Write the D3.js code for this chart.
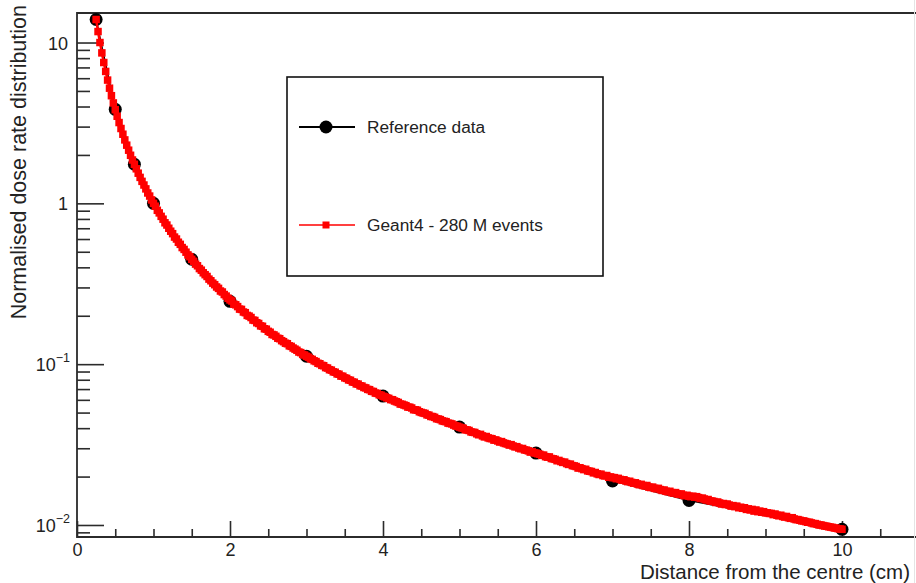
<!DOCTYPE html>
<html>
<head>
<meta charset="utf-8">
<script src="https://cdn.jsdelivr.net/npm/d3@7"></script>
<style>
  html, body { margin: 0; padding: 0; background: #fff; }
  svg { display: block; font-family: "Liberation Sans", Arial, Helvetica, sans-serif; }
</style>
</head>
<body>
<svg id="chart" width="916" height="583"></svg>
<script>
// Reference measurements (distance in cm, normalised dose rate)
const refDistance = [0.25, 0.5, 0.75, 1.0, 1.5, 2.0, 3.0, 4.0, 5.0, 6.0, 7.0, 8.0, 10.0];
const refDose = [13.9, 3.84, 1.75, 1.0, 0.449, 0.246, 0.112, 0.0633, 0.0406, 0.0280, 0.0188, 0.0142, 0.0094];

// Geant4 histogram: bin centres start at 0.25 cm, 0.025 cm wide
const geantBinStart = 0.25;
const geantBinWidth = 0.025;
const geantDose = [
  // 0.25 - 1.00
  13.9, 11.7, 10.0, 8.62, 7.51, 6.61, 5.84, 5.20, 4.67, 4.21,
  3.82, 3.48, 3.18, 2.92, 2.69, 2.48, 2.30, 2.14, 1.99, 1.86,
  1.75, 1.64, 1.54, 1.45, 1.37, 1.30, 1.23, 1.16, 1.11, 1.05,
  1.00,
  // 1.025 - 2.00
  0.960, 0.905, 0.872, 0.830, 0.797, 0.757, 0.733, 0.700, 0.671, 0.648,
  0.617, 0.600, 0.573, 0.556, 0.531, 0.517, 0.497, 0.478, 0.466, 0.449,
  0.436, 0.419, 0.409, 0.393, 0.384, 0.370, 0.360, 0.351, 0.338, 0.330,
  0.319, 0.312, 0.302, 0.296, 0.285, 0.281, 0.271, 0.265, 0.257, 0.251,
  // 2.025 - 3.00
  0.247, 0.236, 0.234, 0.228, 0.220, 0.219, 0.211, 0.209, 0.201, 0.199,
  0.195, 0.188, 0.187, 0.181, 0.179, 0.173, 0.172, 0.166, 0.165, 0.160,
  0.158, 0.153, 0.152, 0.149, 0.145, 0.144, 0.140, 0.138, 0.135, 0.134,
  0.130, 0.129, 0.126, 0.124, 0.122, 0.119, 0.118, 0.115, 0.114, 0.112,
  // 3.025 - 4.00
  0.1105, 0.1082, 0.1071, 0.1049, 0.1038, 0.1013, 0.1006, 0.0983, 0.0978, 0.0952,
  0.0946, 0.0924, 0.0918, 0.0896, 0.0891, 0.0870, 0.0866, 0.0843, 0.0841, 0.0822,
  0.0816, 0.0798, 0.0794, 0.0775, 0.0772, 0.0754, 0.0752, 0.0734, 0.0731, 0.0716,
  0.0712, 0.0697, 0.0694, 0.0678, 0.0676, 0.0661, 0.0658, 0.0645, 0.0642, 0.0632,
  // 4.025 - 5.00
  0.0626, 0.0617, 0.0613, 0.0602, 0.0601, 0.0590, 0.0584, 0.0578, 0.0565, 0.0563,
  0.0557, 0.0552, 0.0541, 0.0540, 0.0534, 0.0521, 0.0520, 0.0517, 0.0506, 0.0501,
  0.0497, 0.0494, 0.0484, 0.0482, 0.0473, 0.0472, 0.0467, 0.0458, 0.0456, 0.0452,
  0.0444, 0.0441, 0.0439, 0.0430, 0.0428, 0.0425, 0.0418, 0.0413, 0.0411, 0.0406,
  // 5.025 - 6.00
  0.0402, 0.0399, 0.0391, 0.0390, 0.0387, 0.0379, 0.0377, 0.0376, 0.0369, 0.0364,
  0.0366, 0.0358, 0.0353, 0.0355, 0.0348, 0.0345, 0.0344, 0.0337, 0.0338, 0.0333,
  0.0328, 0.0330, 0.0324, 0.0321, 0.0319, 0.0314, 0.0316, 0.0310, 0.0306, 0.0307,
  0.0301, 0.0298, 0.0299, 0.0293, 0.0292, 0.0289, 0.0284, 0.0286, 0.0281, 0.0280,
  // 6.025 - 7.00
  0.0277, 0.0275, 0.0271, 0.0272, 0.0266, 0.0264, 0.0265, 0.0259, 0.0258, 0.0256,
  0.0251, 0.0252, 0.0248, 0.0245, 0.0246, 0.0241, 0.0238, 0.0239, 0.0234, 0.0233,
  0.0231, 0.0226, 0.0227, 0.0224, 0.0221, 0.0222, 0.0217, 0.0216, 0.0215, 0.0211,
  0.0212, 0.0208, 0.0206, 0.0207, 0.0203, 0.0202, 0.0203, 0.0198, 0.0199, 0.0197,
  // 7.025 - 8.00
  0.0197, 0.0194, 0.0195, 0.0192, 0.0190, 0.0191, 0.0188, 0.0186, 0.0187, 0.0184,
  0.0182, 0.0183, 0.0180, 0.0178, 0.0179, 0.0176, 0.0175, 0.0176, 0.0172, 0.0171,
  0.0172, 0.0169, 0.0168, 0.0169, 0.0166, 0.0164, 0.0165, 0.0162, 0.0161, 0.0162,
  0.0159, 0.0158, 0.0159, 0.0156, 0.0155, 0.0156, 0.0153, 0.0152, 0.0153, 0.0151,
  // 8.025 - 9.00
  0.0150, 0.0151, 0.0149, 0.0150, 0.0148, 0.0146, 0.0147, 0.0145, 0.0143, 0.0144,
  0.0141, 0.0141, 0.0140, 0.0138, 0.0139, 0.0137, 0.0135, 0.0136, 0.0134, 0.0135,
  0.0133, 0.0131, 0.0132, 0.0130, 0.0131, 0.0128, 0.0129, 0.0127, 0.0128, 0.0125,
  0.0126, 0.0124, 0.0125, 0.0122, 0.0124, 0.0121, 0.0122, 0.0120, 0.0121, 0.0119,
  // 9.025 - 10.00
  0.0119, 0.0118, 0.0118, 0.0116, 0.0117, 0.0115, 0.0114, 0.0115, 0.0113, 0.0112,
  0.0113, 0.0111, 0.0110, 0.0111, 0.0109, 0.0108, 0.0108, 0.0107, 0.0106, 0.0106,
  0.0105, 0.0104, 0.0104, 0.0103, 0.0102, 0.0102, 0.0101, 0.0100, 0.0100, 0.00992,
  0.00985, 0.00982, 0.00975, 0.00970, 0.00966, 0.00958, 0.00955, 0.00948, 0.00945, 0.00940
];

// Axis ticks
const xMajorTicks = [0, 2, 4, 6, 8, 10];
const xMinorTicks = [0.5, 1, 1.5, 2.5, 3, 3.5, 4.5, 5, 5.5, 6.5, 7, 7.5, 8.5, 9, 9.5, 10.5];
const yMajorTicks = [0.01, 0.1, 1, 10];
const yMajorLabels = [["10", "\u22122"], ["10", "\u22121"], ["1", ""], ["10", ""]];
const yMinorTicks = [0.009,
  0.02, 0.03, 0.04, 0.05, 0.06, 0.07, 0.08, 0.09,
  0.2, 0.3, 0.4, 0.5, 0.6, 0.7, 0.8, 0.9,
  2, 3, 4, 5, 6, 7, 8, 9];

const xTitle = "Distance from the centre (cm)";
const yTitle = "Normalised dose rate distribution";
const legendLabels = ["Reference data", "Geant4 - 280 M events"];

const frame = { left: 77, top: 13, right: 918.5, bottom: 537 };
const axisColor = "#2b2b2b";
const textColor = "#222";
const labelFont = "Liberation Sans, Arial, sans-serif";

const svg = d3.select("#chart");

const x = d3.scaleLinear().domain([0, 11]).range([frame.left, frame.right]);
const y = d3.scaleLog().domain([0.00842, 15.26]).range([frame.bottom, frame.top]);

// Clip for data marks
svg.append("clipPath").attr("id", "plotClip")
  .append("rect")
  .attr("x", frame.left).attr("y", frame.top)
  .attr("width", frame.right - frame.left).attr("height", frame.bottom - frame.top);

// Axes (ticks point into the frame)
const gx = svg.append("g").attr("transform", `translate(0,${frame.bottom})`);
gx.call(d3.axisBottom(x).tickValues(xMinorTicks).tickSize(-8).tickFormat(""));
const gxMaj = svg.append("g").attr("transform", `translate(0,${frame.bottom})`);
gxMaj.call(d3.axisBottom(x).tickValues(xMajorTicks).tickSize(-16).tickFormat(d3.format("d")));

const gy = svg.append("g").attr("transform", `translate(${frame.left},0)`);
gy.call(d3.axisLeft(y).tickValues(yMinorTicks).tickSize(-13).tickFormat(""));
const gyMaj = svg.append("g").attr("transform", `translate(${frame.left},0)`);
gyMaj.call(d3.axisLeft(y).tickValues(yMajorTicks).tickSize(-27).tickFormat(""));

[gx, gxMaj, gy, gyMaj].forEach(g => {
  g.select(".domain").remove();
  g.selectAll(".tick line").attr("stroke", axisColor).attr("stroke-width", 1.6);
});
gxMaj.selectAll(".tick text")
  .attr("y", 19).attr("dy", "0")
  .attr("fill", textColor).attr("font-size", 18)
  .attr("font-family", labelFont);

// y major labels with superscript exponents
gyMaj.selectAll(".tick").each(function(d, i) {
  const lab = yMajorLabels[i];
  const t = d3.select(this).append("text")
    .attr("x", lab[1] ? -7 : -9).attr("dy", "0.36em")
    .attr("text-anchor", "end")
    .attr("fill", textColor).attr("font-size", 18)
    .attr("font-family", labelFont);
  t.append("tspan").text(lab[0]);
  if (lab[1]) {
    t.append("tspan").attr("font-size", 12.5).attr("dy", "-0.75em").text(lab[1]);
  }
});

// Frame
svg.append("path")
  .attr("d", `M${frame.right},${frame.top} H${frame.left} V${frame.bottom} H${frame.right}`)
  .attr("fill", "none").attr("stroke", axisColor).attr("stroke-width", 1.8);

// Axis titles
svg.append("text")
  .attr("x", 910).attr("y", 578.5)
  .attr("text-anchor", "end")
  .attr("fill", textColor).attr("font-size", 20.5)
  .text(xTitle);

svg.append("text")
  .attr("transform", "translate(26,5) rotate(-90)")
  .attr("text-anchor", "end")
  .attr("fill", textColor).attr("font-size", 21.5)
  .text(yTitle);

// Data
const plot = svg.append("g").attr("clip-path", "url(#plotClip)");

const refPts = refDistance.map((d, i) => ({ x: d, y: refDose[i] }));
const geantPts = geantDose.map((v, i) => ({ x: geantBinStart + i * geantBinWidth, y: v }));

const line = d3.line().x(d => x(d.x)).y(d => y(d.y));

plot.append("path").datum(refPts).attr("d", line)
  .attr("fill", "none").attr("stroke", "#000").attr("stroke-width", 1.5);
plot.selectAll("circle.ref").data(refPts).join("circle")
  .attr("class", "ref")
  .attr("cx", d => x(d.x)).attr("cy", d => y(d.y)).attr("r", 6.5)
  .attr("fill", "#000");

plot.append("path").datum(geantPts).attr("d", line)
  .attr("fill", "none").attr("stroke", "#ff0000").attr("stroke-width", 2.5);
const sq = 7.5;
plot.selectAll("rect.geant").data(geantPts).join("rect")
  .attr("class", "geant")
  .attr("x", d => x(d.x) - sq / 2).attr("y", d => y(d.y) - sq / 2)
  .attr("width", sq).attr("height", sq)
  .attr("fill", "#ff0000");

// Legend
const legend = svg.append("g");
legend.append("rect")
  .attr("x", 287).attr("y", 77).attr("width", 316).attr("height", 199)
  .attr("fill", "#fff").attr("stroke", "#111").attr("stroke-width", 1.6);

const entries = [
  { label: legendLabels[0], color: "#000", yPos: 127, marker: "circle" },
  { label: legendLabels[1], color: "#ff0000", yPos: 225, marker: "square" }
];
entries.forEach(e => {
  legend.append("line")
    .attr("x1", 299).attr("x2", 355).attr("y1", e.yPos).attr("y2", e.yPos)
    .attr("stroke", e.color).attr("stroke-width", e.marker === "circle" ? 1.8 : 1.5);
  if (e.marker === "circle") {
    legend.append("circle").attr("cx", 326).attr("cy", e.yPos).attr("r", 6.5).attr("fill", e.color);
  } else {
    legend.append("rect").attr("x", 326 - 3.5).attr("y", e.yPos - 3.5)
      .attr("width", 7).attr("height", 7).attr("fill", e.color);
  }
  legend.append("text")
    .attr("x", 367).attr("y", e.yPos).attr("dy", "0.36em")
    .attr("fill", textColor).attr("font-size", 17.3)
    .text(e.label);
});

// Thin outer edge on the right of the image
svg.append("line").attr("x1", 914.5).attr("x2", 914.5).attr("y1", 0).attr("y2", 583)
  .attr("stroke", "#e4e4e4").attr("stroke-width", 1);
</script>
</body>
</html>
